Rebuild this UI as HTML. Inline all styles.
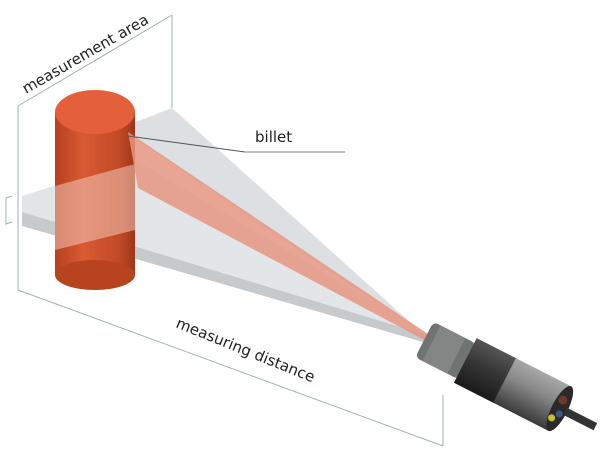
<!DOCTYPE html>
<html><head><meta charset="utf-8"><style>
html,body{margin:0;padding:0;background:#fff;width:600px;height:474px;overflow:hidden}
svg{display:block}
text{font-family:"DejaVu Sans","Liberation Sans",sans-serif;fill:#222}
</style></head><body>
<svg width="600" height="474" viewBox="0 0 600 474" xmlns="http://www.w3.org/2000/svg">
<defs>
<linearGradient id="cyl" x1="0" x2="1" y1="0" y2="0">
<stop offset="0" stop-color="#b8401f"/><stop offset="0.35" stop-color="#d85a33"/><stop offset="0.8" stop-color="#c24a26"/><stop offset="1" stop-color="#9e3618"/>
</linearGradient>
<linearGradient id="sens" x1="0" y1="0" x2="0" y2="1">
<stop offset="0" stop-color="#a8a8a8"/><stop offset="0.4" stop-color="#888"/><stop offset="1" stop-color="#3a3a3a"/>
</linearGradient>
<linearGradient id="sens2" x1="0" y1="0" x2="0" y2="1">
<stop offset="0" stop-color="#555"/><stop offset="0.5" stop-color="#333"/><stop offset="1" stop-color="#1a1a1a"/>
</linearGradient>
</defs>
<g stroke="#9fb0b4" stroke-width="1" fill="none">
<line x1="18" y1="106" x2="172" y2="15"/>
<line x1="18" y1="106" x2="18" y2="290"/>
<line x1="172" y1="15" x2="172" y2="108"/>
<line x1="18" y1="290" x2="443" y2="446"/>
<line x1="443" y1="395" x2="443" y2="446"/>
<polyline points="12,196 6,198 6,224 12,222"/>
</g>
<polygon points="172,108 120,128 430,340" fill="#d6dade" opacity="0.85"/>
<polygon points="22,196 135,160 430,336 22,212" fill="#e3e6e9"/>
<polygon points="22,212 430,336 430,344 22,226" fill="#c6cacd"/>
<rect x="55" y="112" width="80" height="163" fill="url(#cyl)"/>
<ellipse cx="95" cy="275" rx="40" ry="15" fill="#b8441f"/>
<ellipse cx="95" cy="112" rx="40" ry="22" fill="#e4603a"/>
<polygon points="55,186 135,164 135,230 55,250" fill="#f2c8b8" opacity="0.55"/>
<polygon points="128,132 138,188 432,344 428,334" fill="#e59580" opacity="0.85"/>
<polyline points="128,136 245,152 345,152" stroke="#555" stroke-width="1" fill="none"/>
<line x1="245" y1="152" x2="345" y2="152" stroke="#aaa" stroke-width="1.5"/>
<text x="255" y="142" font-size="15">billet</text>
<text transform="translate(26,94) rotate(-30)" font-size="15">measurement area</text>
<text transform="translate(175,327) rotate(22)" font-size="15">measuring distance</text>
<g transform="translate(435,345) rotate(27)">
<rect x="-12" y="-20" width="48" height="40" rx="5" fill="#6f7472"/>
<rect x="-4" y="-20" width="28" height="40" fill="#8a8f8d" opacity="0.7"/>
<rect x="34" y="-25" width="46" height="50" fill="url(#sens2)"/>
<rect x="78" y="-25" width="62" height="50" fill="url(#sens)"/>
<ellipse cx="140" cy="0" rx="8" ry="25" fill="#2a2a2a"/>
<circle cx="139" cy="-9" r="4.5" fill="#6a3a2a"/>
<circle cx="142" cy="5" r="3.5" fill="#3a5a8a"/>
<circle cx="137" cy="12" r="3.5" fill="#c8c030"/>
<rect x="146" y="-4" width="34" height="8" fill="#333"/>
</g>
</svg>
</body></html>
